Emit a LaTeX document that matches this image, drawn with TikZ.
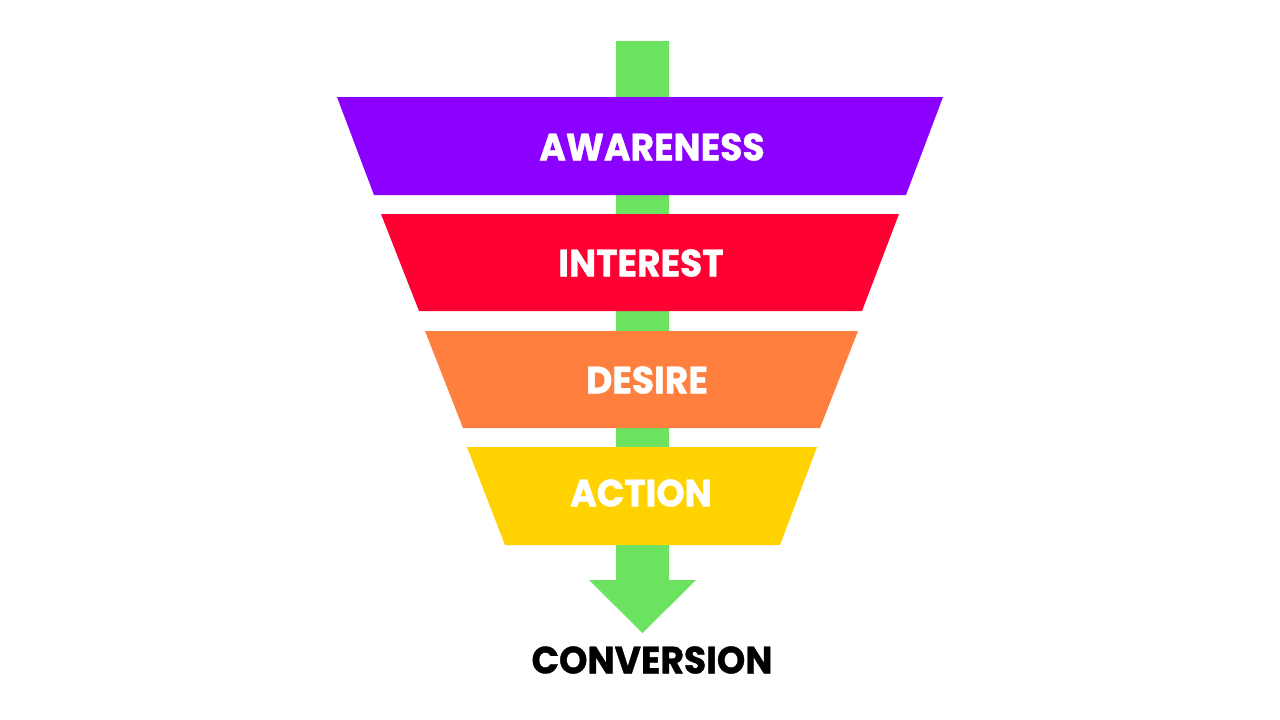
\documentclass[tikz,border=0pt]{standalone}
\usepackage{fontspec}
\setmainfont{Poppins}[BoldFeatures={FakeStretch=0.95,FakeBold=1}]
\definecolor{cpurple}{HTML}{8C00FF}
\definecolor{cred}{HTML}{FF0033}
\definecolor{corange}{HTML}{FF7F3F}
\definecolor{cyellow}{HTML}{FFD200}
\definecolor{cgreen}{HTML}{6BE260}
\begin{document}
\begin{tikzpicture}[x=1pt,y=-1pt,
  bandlabel/.style={text=white,font=\fontsize{38}{40}\selectfont\bfseries,inner sep=0pt,anchor=center},
  convlabel/.style={text=black,font=\fontsize{38}{40}\selectfont\bfseries,inner sep=0pt,anchor=center}]
\fill[white] (0,0) rectangle (1280,720);
\useasboundingbox (0,0) rectangle (1280,720);
% green arrow
\fill[cgreen] (616,41) -- (669,41) -- (669,580) -- (696,580) -- (642.5,633) -- (589,580) -- (616,580) -- cycle;
% bands
\fill[cpurple] (337,97) -- (943,97) -- (906,195) -- (374,195) -- cycle;
\fill[cred] (381,214) -- (899,214) -- (862,311) -- (419,311) -- cycle;
\fill[corange] (425,331) -- (858,331) -- (820,428) -- (463,428) -- cycle;
\fill[cyellow] (467,447) -- (817,447) -- (780,545) -- (505,545) -- cycle;
\node[bandlabel] (aw) at (652,147) {AWARENESS};
\node[bandlabel] (in) at (641,263) {INTEREST};
\node[bandlabel] (de) at (647,380) {DESIRE};
\node[bandlabel] (ac) at (641,493) {ACTION};
\node[convlabel] (cv) at (652,660) {CONVERSION};
\end{tikzpicture}
\end{document}
